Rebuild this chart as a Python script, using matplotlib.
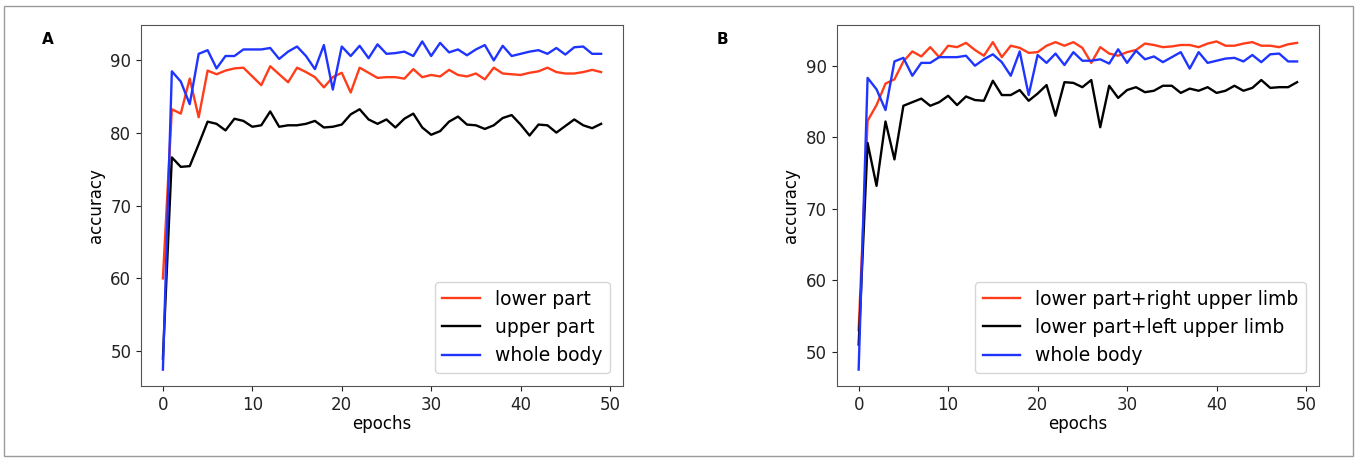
import matplotlib
matplotlib.use("Agg")
import matplotlib.pyplot as plt
from matplotlib.patches import Rectangle

epochs = list(range(50))

# panel A
a_lower = [60.0, 83.2, 82.6, 87.4, 82.1, 88.5, 88.0, 88.5, 88.8, 88.9,
           87.7, 86.5, 89.1, 88.0, 86.9, 88.9, 88.3, 87.6, 86.2, 87.6,
           88.2, 85.5, 88.9, 88.2, 87.5, 87.6, 87.6, 87.4, 88.7, 87.6,
           87.9, 87.7, 88.6, 87.9, 87.7, 88.1, 87.3, 88.9, 88.1, 88.0,
           87.9, 88.2, 88.4, 88.9, 88.3, 88.1, 88.1, 88.3, 88.6, 88.3]
a_upper = [49.0, 76.6, 75.3, 75.4, 78.4, 81.5, 81.2, 80.3, 81.9, 81.6,
           80.8, 81.0, 82.9, 80.8, 81.0, 81.0, 81.2, 81.6, 80.7, 80.8,
           81.1, 82.5, 83.2, 81.8, 81.2, 81.8, 80.7, 81.9, 82.6, 80.7,
           79.7, 80.2, 81.5, 82.2, 81.1, 81.0, 80.5, 81.0, 82.0, 82.4,
           81.1, 79.6, 81.1, 81.0, 80.0, 80.9, 81.8, 81.0, 80.6, 81.2]
a_whole = [47.5, 88.4, 87.0, 83.9, 90.8, 91.3, 88.8, 90.5, 90.5, 91.4,
           91.4, 91.4, 91.6, 90.1, 91.1, 91.8, 90.5, 88.7, 92.0, 85.9,
           91.8, 90.5, 91.9, 90.2, 92.1, 90.8, 90.9, 91.1, 90.5, 92.5,
           90.5, 92.3, 91.0, 91.4, 90.6, 91.4, 92.0, 89.9, 91.9, 90.5,
           90.8, 91.1, 91.3, 90.8, 91.6, 90.7, 91.7, 91.8, 90.8, 90.8]

# panel B
b_right = [53.0, 82.3, 84.5, 87.5, 88.1, 90.6, 92.0, 91.3, 92.6, 91.2,
           92.8, 92.6, 93.2, 92.2, 91.4, 93.3, 91.2, 92.8, 92.5, 91.8,
           91.9, 92.8, 93.3, 92.8, 93.3, 92.5, 90.4, 92.6, 91.7, 91.4,
           91.9, 92.2, 93.1, 92.9, 92.6, 92.7, 92.9, 92.9, 92.6, 93.1,
           93.4, 92.8, 92.8, 93.1, 93.3, 92.8, 92.8, 92.6, 93.0, 93.2]
b_left = [51.0, 79.2, 73.2, 82.2, 76.9, 84.4, 84.9, 85.4, 84.4, 84.9,
          85.8, 84.5, 85.7, 85.2, 85.1, 87.9, 85.9, 85.9, 86.6, 85.1,
          86.1, 87.3, 83.0, 87.7, 87.6, 87.0, 88.0, 81.4, 87.2, 85.5,
          86.6, 87.0, 86.3, 86.5, 87.2, 87.2, 86.2, 86.8, 86.5, 87.0,
          86.2, 86.5, 87.2, 86.5, 86.9, 88.0, 86.9, 87.0, 87.0, 87.7]
b_whole = [47.5, 88.3, 86.7, 83.8, 90.6, 91.1, 88.6, 90.4, 90.4, 91.2,
           91.2, 91.2, 91.4, 90.0, 90.9, 91.6, 90.5, 88.6, 92.0, 85.9,
           91.5, 90.4, 91.7, 90.1, 91.9, 90.7, 90.7, 90.9, 90.3, 92.3,
           90.4, 92.1, 90.9, 91.3, 90.5, 91.2, 91.9, 89.6, 91.9, 90.4,
           90.7, 91.0, 91.1, 90.6, 91.5, 90.5, 91.6, 91.7, 90.6, 90.6]

RED = '#ff3d1a'
BLUE = '#1f35ff'
FS = 12
LEG_FS = 13.5

fig = plt.figure(figsize=(13.57, 4.59), dpi=100)
fig.patches.append(Rectangle((0.003, 0.006), 0.994, 0.981, transform=fig.transFigure,
                             fill=False, edgecolor='#9a9a9a', linewidth=1.0))

ax_a = fig.add_axes([0.1039, 0.159, 0.3552, 0.7865])
ax_b = fig.add_axes([0.6166, 0.159, 0.3554, 0.7865])

panels = [
    (ax_a, 'A', [a_lower, a_upper, a_whole], ['lower part', 'upper part', 'whole body']),
    (ax_b, 'B', [b_right, b_left, b_whole],
     ['lower part+right upper limb', 'lower part+left upper limb', 'whole body']),
]

for ax, tag, series, names in panels:
    for vals, name, col in zip(series, names, [RED, 'black', BLUE]):
        ax.plot(epochs, vals, color=col, linewidth=1.7, label=name)
    ax.set_xticks([0, 10, 20, 30, 40, 50])
    ax.set_yticks([50, 60, 70, 80, 90])
    ax.tick_params(labelsize=FS, colors='#222222')
    for s in ax.spines.values():
        s.set_color('#555555')
    ax.set_xlabel('epochs', fontsize=FS, labelpad=1)
    ax.set_ylabel('accuracy', fontsize=FS)
    ax.legend(loc='lower right', fontsize=LEG_FS, handlelength=2.0, borderaxespad=0.7)

fig.text(0.031, 0.905, 'A', fontsize=11, fontweight='bold')
fig.text(0.528, 0.905, 'B', fontsize=11, fontweight='bold')

fig.savefig('out.png', dpi=100)
